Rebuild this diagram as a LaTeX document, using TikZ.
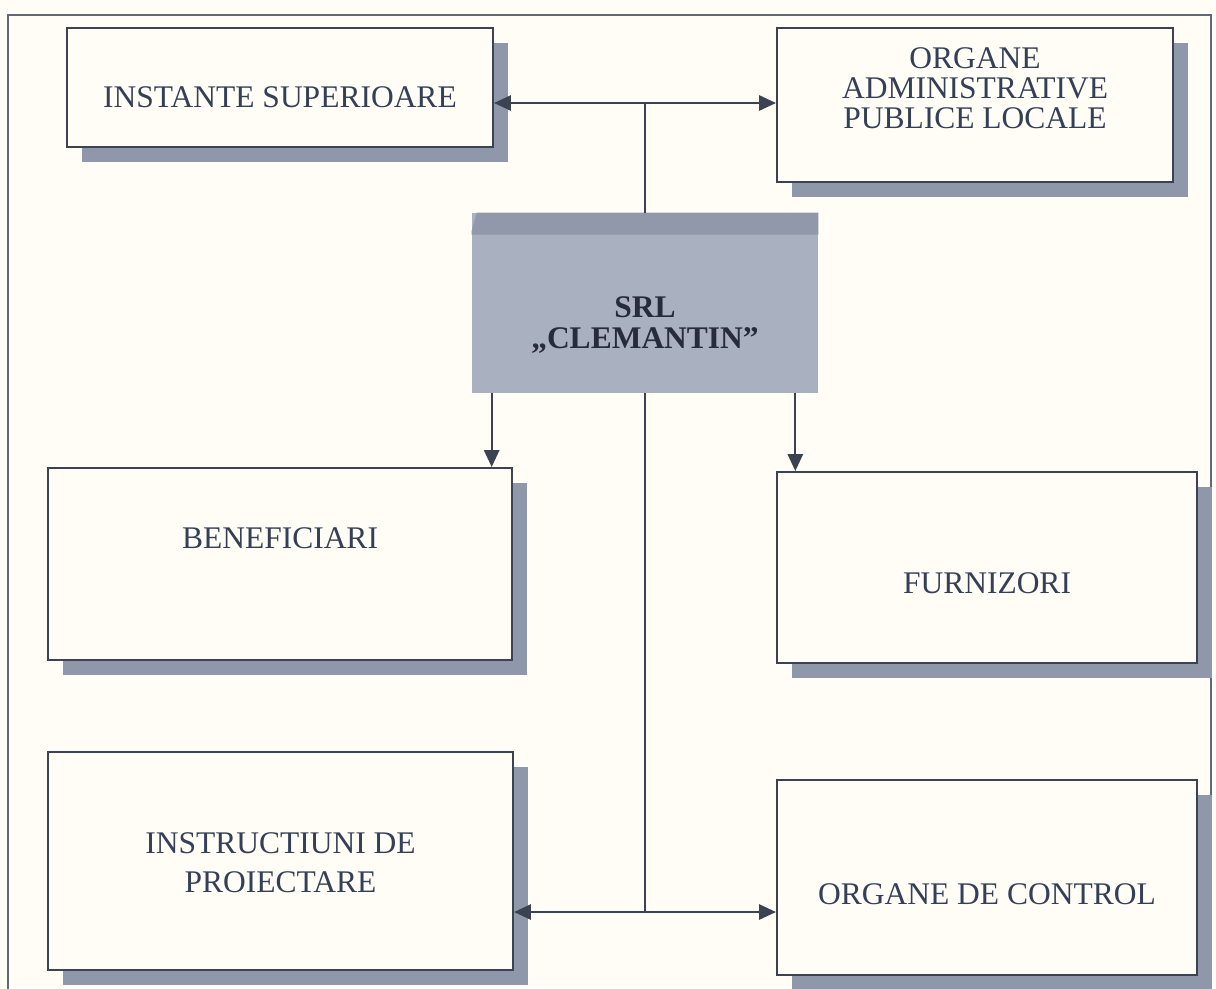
\documentclass[tikz,border=0pt]{standalone}
\usepackage{fontspec}
\setmainfont{Liberation Serif}
\usetikzlibrary{arrows.meta, shadows}

\definecolor{paper}{HTML}{FFFDF5}
\definecolor{shadowc}{HTML}{8F98AB}
\definecolor{boxline}{HTML}{3B4252}
\definecolor{textc}{HTML}{334058}
\definecolor{srlfill}{HTML}{A9B1C0}
\definecolor{bandc}{HTML}{9098A9}
\definecolor{srltext}{HTML}{262C3A}

\tikzset{
  unitbox/.style={draw=boxline, line width=1.4pt, fill=paper, inner sep=0pt,
    general shadow={fill=shadowc, shadow xshift=0.375cm, shadow yshift=-0.375cm}},
  lbl/.style={text=textc, align=center, font=\fontsize{22.4}{21.5}\selectfont},
  link/.style={draw=boxline, line width=1.3pt},
  tip/.style={-{Triangle[length=0.42cm, width=0.38cm]}},
  tips/.style={{Triangle[length=0.42cm, width=0.38cm]}-{Triangle[length=0.42cm, width=0.38cm]}}
}

\begin{document}
\begin{tikzpicture}[x=0.025cm, y=-0.025cm]

  % === PAGE AND FRAME ===
  \fill[paper] (0,0) rectangle (1216,988);
  \useasboundingbox (0,0) rectangle (1216,988);
  \draw[boxline!80, line width=1pt] (8,1010) -- (8,15) -- (1211,15) -- (1211,1010);

  % === UPPER ROW ===
  \node[unitbox, minimum width=10.65cm, minimum height=2.975cm,
    label={[lbl, yshift=-0.24cm]center:INSTANTE SUPERIOARE}]
    (inst) at (280,87.5) {};
  \node[unitbox, minimum width=9.9cm, minimum height=3.85cm,
    label={[lbl, yshift=0.425cm]center:{ORGANE\\ADMINISTRATIVE\\PUBLICE LOCALE}}]
    (organe) at (975,105) {};

  % === SRL (centre) ===
  \node[fill=srlfill, inner sep=0pt, minimum width=8.65cm, minimum height=4.5cm,
    label={[lbl, text=srltext, font=\fontsize{22.4}{22}\selectfont\bfseries,
      yshift=-0.55cm]center:{SRL\\„CLEMANTIN”}}]
    (srl) at (645,303) {};
  \fill[bandc] ([xshift=0.125cm]srl.north west) -- (srl.north east)
    -- ([yshift=-0.55cm]srl.north east) -- ([yshift=-0.55cm]srl.north west)
    -- ([yshift=-0.45cm]srl.north west) -- cycle;

  % === MIDDLE ROW ===
  \node[unitbox, minimum width=11.6cm, minimum height=4.8cm,
    label={[lbl, yshift=0.65cm]center:BENEFICIARI}]
    (benef) at (280,564) {};
  \node[unitbox, minimum width=10.5cm, minimum height=4.775cm,
    label={[lbl, yshift=-0.39cm]center:FURNIZORI}]
    (furniz) at (987,567.5) {};

  % === LOWER ROW ===
  \node[unitbox, minimum width=11.625cm, minimum height=5.45cm,
    label={[lbl, font=\fontsize{22.4}{27.7}\selectfont,
      yshift=-0.05cm]center:{INSTRUCTIUNI DE\\PROIECTARE}}]
    (instr) at (280.5,861) {};
  \node[unitbox, minimum width=10.5cm, minimum height=4.875cm,
    label={[lbl, yshift=-0.41cm]center:ORGANE DE CONTROL}]
    (control) at (987,877.5) {};

  % === CONNECTORS ===
  \coordinate (topj) at (645,103);
  \coordinate (botj) at (645,912);

  \draw[link] (srl.north) -- (topj);
  \draw[link, tips] (inst.east |- topj) -- (organe.west |- topj);

  \draw[link] (srl.south) -- (botj);
  \draw[link, tips] (instr.east |- botj) -- (control.west |- botj);

  \draw[link, tip] ([xshift=0.5cm]srl.south west)
    -- ([xshift=0.5cm]srl.south west |- benef.north);
  \draw[link, tip] ([xshift=-0.575cm]srl.south east)
    -- ([xshift=-0.575cm]srl.south east |- furniz.north);

\end{tikzpicture}
\end{document}
